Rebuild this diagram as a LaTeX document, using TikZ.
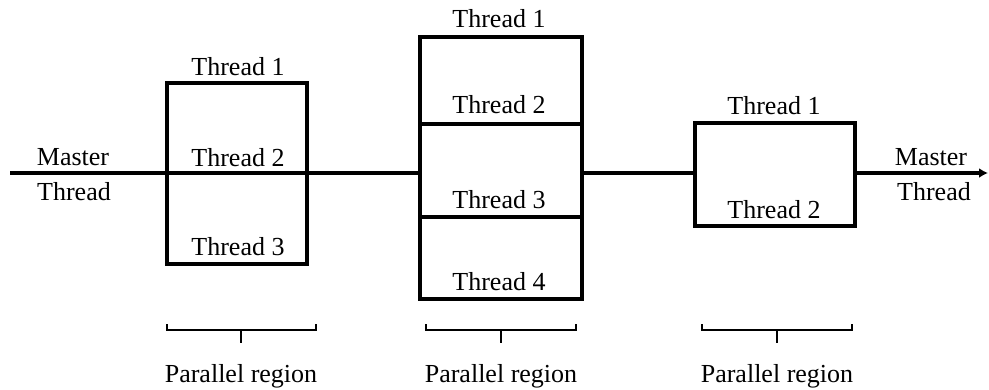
\documentclass[tikz,border=0pt]{standalone}
\usepackage{fontspec}
\setmainfont{Liberation Serif}
\usetikzlibrary{arrows.meta}
\begin{document}
\begin{tikzpicture}[x=1pt,y=-1pt,
  lbl/.style={anchor=base,inner sep=0pt,font=\fontsize{26}{30}\selectfont},
  thbox/.style={draw,line width=3.6pt,minimum width=#1,inner sep=0pt},
  mline/.style={line width=3.6pt},
  brace/.style={line width=2pt}]
\useasboundingbox (0,0) rectangle (989,389);
% boxes
\node[thbox=140pt,minimum height=181pt] (b1) at (237,173.5) {};
\node[thbox=162pt,minimum height=262pt] (b2) at (501,168) {};
\node[thbox=160pt,minimum height=103pt] (b3) at (775,174.5) {};
% master line
\coordinate (ml) at (10,173);
\coordinate (mr) at (988,173);
\draw[mline] (ml) -- (ml -| b1.west) -- (ml -| b1.east) -- (ml -| b2.west);
\draw[mline] (ml -| b2.east) -- (ml -| b3.west);
\draw[mline,-{Latex[length=9pt,width=10pt]}] (ml -| b3.east) -- (mr);
% dividers in box 2
\coordinate (d1) at (0,124);
\coordinate (d2) at (0,217);
\draw[mline] (d1 -| b2.west) -- (d1 -| b2.east);
\draw[mline] (d2 -| b2.west) -- (d2 -| b2.east);
% labels
\node[lbl] (mlm) at (73,165) {Master};
\node[lbl] (mlt) at (74,200) {Thread};
\node[lbl] (mrm) at (931,165) {Master};
\node[lbl] (mrt) at (934,200) {Thread};
\node[lbl] (t11) at (238,75) {Thread 1};
\node[lbl] (t12) at (238,166) {Thread 2};
\node[lbl] (t13) at (238,255) {Thread 3};
\node[lbl] (t21) at (499,27) {Thread 1};
\node[lbl] (t22) at (499,113) {Thread 2};
\node[lbl] (t23) at (499,208) {Thread 3};
\node[lbl] (t24) at (499,290) {Thread 4};
\node[lbl] (t31) at (774,114) {Thread 1};
\node[lbl] (t32) at (774,218) {Thread 2};
% braces
\foreach \a/\b/\m/\n in {167/316/241/p1, 426/576/501/p2, 702/852/777/p3}{
  \draw[brace] (\a,324) -- (\a,330) -- (\b,330) -- (\b,324);
  \draw[brace] (\m,330) -- (\m,343);
  \node[lbl] (\n) at (\m,382) {Parallel region};
}
\end{tikzpicture}
\end{document}
